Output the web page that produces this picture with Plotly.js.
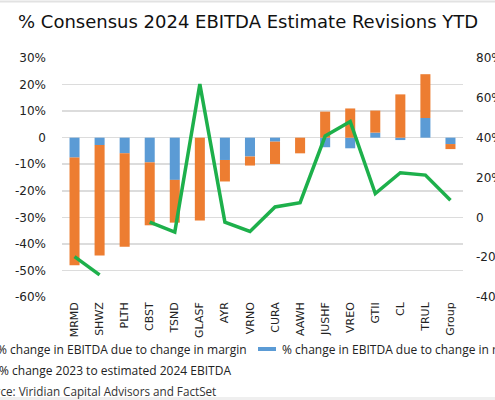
<!DOCTYPE html>
<html>
<head>
<meta charset="utf-8">
<script src="https://cdn.plot.ly/plotly-3.0.1.min.js"></script>
<style>html,body{margin:0;padding:0;background:#fff;}#chart{width:495px;height:400px;}</style>
</head>
<body>
<div id="chart"></div>
<script>
// ---- data ----
const categories = ["MRMD","SHWZ","PLTH","CBST","TSND","GLASF","AYR","VRNO","CURA","AAWH","JUSHF","VREO","GTII","CL","TRUL","Group"];
const revenueChange = [-7.5,-2.8,-5.9,-9.3,-15.9,0,-8.4,-7.1,-1.5,0,-3.6,-4.0,1.9,-0.9,7.4,-2.4];
const marginChange = [-40.5,-41.6,-35.2,-23.7,-16.1,-31.2,-8.1,-3.4,-8.4,-5.9,9.8,11.0,8.3,16.3,16.5,-1.9];
const ebitdaChange = [-19.7,-28.9,null,-2.4,-7.4,66.9,-2.4,-7.1,5.2,7.4,40.8,48.1,11.9,22.4,21.2,8.6];
const leftTickVals = [30,20,10,0,-10,-20,-30,-40,-50,-60];
const leftTickText = ["30%","20%","10%","0","-10%","-20%","-30%","-40%","-50%","-60%"];
const rightTickVals = [80,60,40,20,0,-20,-40];
const rightTickText = ["80%","60%","40%","20%","0","-20%","-40%"];
const titleText = "% Consensus 2024 EBITDA Estimate Revisions YTD";
const legendMargin = "% change in EBITDA due to change in margin";
const legendRevenue = "% change in EBITDA due to change in revenue";
const legendLine = "% change 2023 to estimated 2024 EBITDA";
const sourceText = "Source: Viridian Capital Advisors and FactSet";

// ---- layout helpers (pixel -> paper) ----
const W = 495, H = 400;
const L = 62, R = 463, T = 58, B = 297;
const px = x => (x - L) / (R - L);
const py = y => (B - y) / (B - T);

const FONT = "Open Sans, sans-serif";
const WIDEFONT = "DejaVu Sans, sans-serif";
const ORANGE = "#ED7D31", BLUE = "#5B9BD5", GREEN = "#1DB04B";

const traces = [
  {type:"bar", x:categories, y:revenueChange, name:legendRevenue, marker:{color:BLUE}, width:0.4, hoverinfo:"skip"},
  {type:"bar", x:categories, y:marginChange, name:legendMargin, marker:{color:ORANGE}, width:0.4, hoverinfo:"skip"},
  {type:"scatter", mode:"lines", x:categories, y:ebitdaChange, yaxis:"y2", name:legendLine,
   line:{color:GREEN, width:3.5}, connectgaps:false, hoverinfo:"skip"}
];

const layout = {
  width:W, height:H,
  margin:{l:L, r:W-R, t:T, b:H-B, pad:0},
  paper_bgcolor:"#fff", plot_bgcolor:"#fff",
  barmode:"relative",
  showlegend:false,
  font:{family:FONT, color:"#222"},
  xaxis:{type:"category", tickangle:-90, tickfont:{size:11, color:"#222", family:WIDEFONT}, showgrid:false, zeroline:false,
         showline:false, ticks:"", ticklabelstandoff:2, fixedrange:true},
  yaxis:{range:[-60,30], tickvals:leftTickVals, ticktext:leftTickText, tickfont:{size:12, color:"#222", family:WIDEFONT},
         showgrid:true, gridcolor:"#DCDCDC", gridwidth:1.5, zeroline:false, showline:false, ticks:"",
         ticklabelstandoff:15, fixedrange:true},
  yaxis2:{range:[-40,80], overlaying:"y", side:"right", tickvals:rightTickVals, ticktext:rightTickText,
          tickfont:{size:12, color:"#222", family:WIDEFONT}, showgrid:false, zeroline:false, showline:false, ticks:"",
          ticklabelstandoff:12, fixedrange:true},
  annotations:[
    {text:titleText, xref:"paper", yref:"paper", x:px(247.5), y:py(21.5), xanchor:"center", yanchor:"middle",
     showarrow:false, font:{size:18, color:"#111", family:WIDEFONT}},
    {text:legendMargin, xref:"paper", yref:"paper", x:px(249), y:py(349), xanchor:"right", yanchor:"middle",
     showarrow:false, font:{size:12, color:"#222", family:FONT}},
    {text:legendRevenue, xref:"paper", yref:"paper", x:px(280), y:py(349), xanchor:"left", yanchor:"middle",
     showarrow:false, font:{size:12, color:"#222", family:FONT}},
    {text:legendLine, xref:"paper", yref:"paper", x:px(233), y:py(370), xanchor:"right", yanchor:"middle",
     showarrow:false, font:{size:12, color:"#222", family:FONT}},
    {text:sourceText, xref:"paper", yref:"paper", x:px(218), y:py(391), xanchor:"right", yanchor:"middle",
     showarrow:false, font:{size:11.7, color:"#333", family:FONT}}
  ],
  shapes:[
    {type:"rect", xref:"paper", yref:"paper", x0:px(258), x1:px(276), y0:py(351), y1:py(347),
     fillcolor:BLUE, line:{width:0}},
    {type:"line", xref:"paper", yref:"paper", x0:px(0), x1:px(W), y0:py(1.5), y1:py(1.5),
     line:{color:"#E2E2E2", width:2}},
    {type:"rect", xref:"paper", yref:"paper", x0:px(0), x1:px(W), y0:py(400), y1:py(397),
     fillcolor:"#EFEFEF", line:{width:0}}
  ]
};

Plotly.newPlot("chart", traces, layout, {staticPlot:true, displayModeBar:false});
</script>
</body>
</html>
